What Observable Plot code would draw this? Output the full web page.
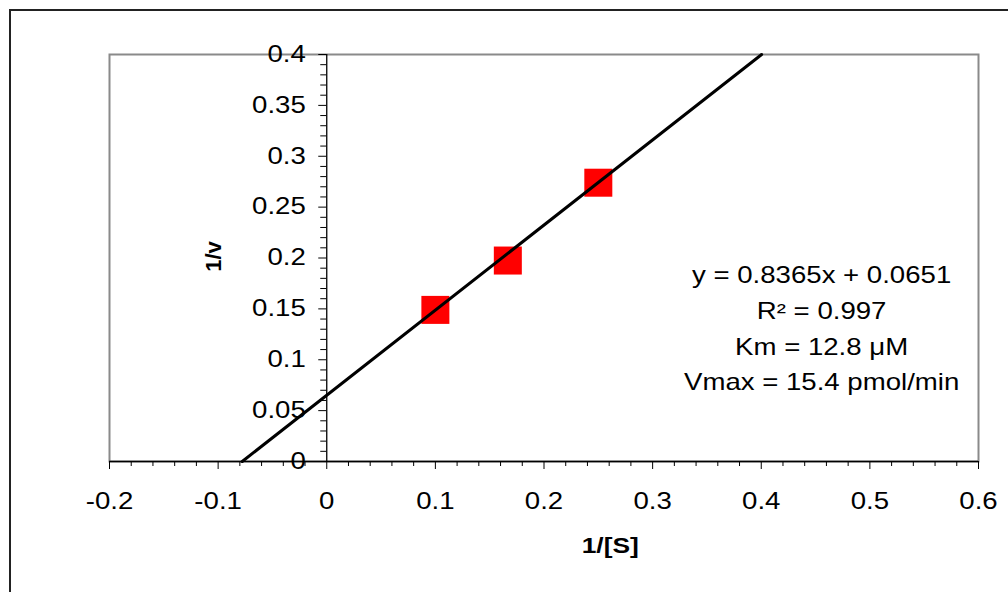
<!DOCTYPE html>
<html><head><meta charset="utf-8">
<script src="https://cdn.jsdelivr.net/npm/d3@7"></script>
<script src="https://cdn.jsdelivr.net/npm/@observablehq/plot@0.6"></script>
<style>
html,body{margin:0;padding:0;background:#fff;overflow:hidden;}
#wrap{position:relative;width:1008px;height:592px;overflow:hidden;}
#border{position:absolute;left:9px;top:9px;width:1200px;height:800px;border:2px solid #222;}
#chart{position:absolute;left:0;top:0;}
</style></head><body>
<div id="wrap"><div id="border"></div><div id="chart"></div></div>
<script>
// Lineweaver-Burk data (1/[S], 1/v)
const invS = [0.1, 0.1667, 0.25];
const invV = [0.149, 0.1975, 0.274];
// linear fit
const slope = 0.8365;
const intercept = 0.0651;
// axis ticks
const xMajor = [-0.2, -0.1, 0, 0.1, 0.2, 0.3, 0.4, 0.5, 0.6];
const yMajor = [0, 0.05, 0.1, 0.15, 0.2, 0.25, 0.3, 0.35, 0.4];
const xMinorStep = 0.02;
const yMinorStep = 0.01;
const xLabel = "1/[S]";
const yLabel = "1/v";
const annotation = ["y = 0.8365x + 0.0651", "R\u00B2 = 0.997", "Km = 12.8 \u03BCM", "Vmax = 15.4 pmol/min"];

const xMinor = d3.range(-0.2, 0.6001, xMinorStep).map(v => +v.toFixed(2)).filter(v => Math.abs(v * 10 - Math.round(v * 10)) > 1e-6);
const yMinor = d3.range(0, 0.4001, yMinorStep).map(v => +v.toFixed(2)).filter(v => Math.abs(v * 20 - Math.round(v * 20)) > 1e-6);
const fmt = v => String(+v.toFixed(2));
const lineX = [-intercept / slope, (0.4 - intercept) / slope];
const pts = invS.map((x, i) => ({x, y: invV[i]}));

const chart = Plot.plot({
  width: 1008, height: 592,
  marginLeft: 109, marginRight: 30, marginTop: 54, marginBottom: 131,
  x: {domain: [-0.2, 0.6]},
  y: {domain: [0, 0.4], axis: null},
  style: {fontFamily: "'Liberation Sans', Arial, sans-serif", background: "transparent", color: "#000", overflow: "visible"},
  marks: [
    Plot.frame({stroke: "#8a8a8a", strokeWidth: 2}),
    Plot.axisX(xMinor, {tickSize: 5, tickFormat: () => "", label: null, stroke: "#000"}),
    Plot.axisX(xMajor, {tickSize: 8, tickPadding: 23, tickFormat: fmt, label: null, fontSize: 23, fontVariant: "normal", stroke: "#000", fill: "#000"}),
    Plot.ruleY(yMinor, {y: d => d, x1: 0, x2: 0, insetLeft: -6, stroke: "#000"}),
    Plot.ruleY(yMajor, {y: d => d, x1: 0, x2: 0, insetLeft: -8, stroke: "#000"}),
    Plot.ruleX([0], {stroke: "#000", strokeWidth: 1.3}),
    Plot.ruleY([0], {stroke: "#000", strokeWidth: 1.3}),
    Plot.text(yMajor, {x: 0, y: d => d, text: fmt, textAnchor: "end", dx: -21, fontSize: 23, fill: "#000"}),
    Plot.dot(pts, {x: "x", y: "y", symbol: "square", r: 15.8, fill: "#ff0000", stroke: "none"}),
    Plot.line(lineX, {x: d => d, y: d => slope * d + intercept, stroke: "#000", strokeWidth: 3}),
    Plot.text([xLabel], {x: 0.261, y: 0, dy: 76, lineAnchor: "top", fontWeight: "bold", fontSize: 22, fill: "#000"}),
    Plot.text([yLabel], {x: -0.104, y: 0.2015, rotate: -90, fontWeight: "bold", fontSize: 22, fill: "#000"}),
    Plot.text([annotation.join("\n")], {x: 0.4556, y: 0.2, lineAnchor: "top", lineHeight: 1.55, fontSize: 23, fill: "#000"})
  ]
});

// widen horizontal text like the reference rendering (scale about each text's anchor)
chart.querySelectorAll("text").forEach(t => {
  const tr = t.getAttribute("transform") || "";
  if (/rotate/.test(tr)) return;
  t.setAttribute("transform", (tr + " scale(1.2,1)").trim());
});
document.getElementById("chart").appendChild(chart);
</script>
</body></html>
